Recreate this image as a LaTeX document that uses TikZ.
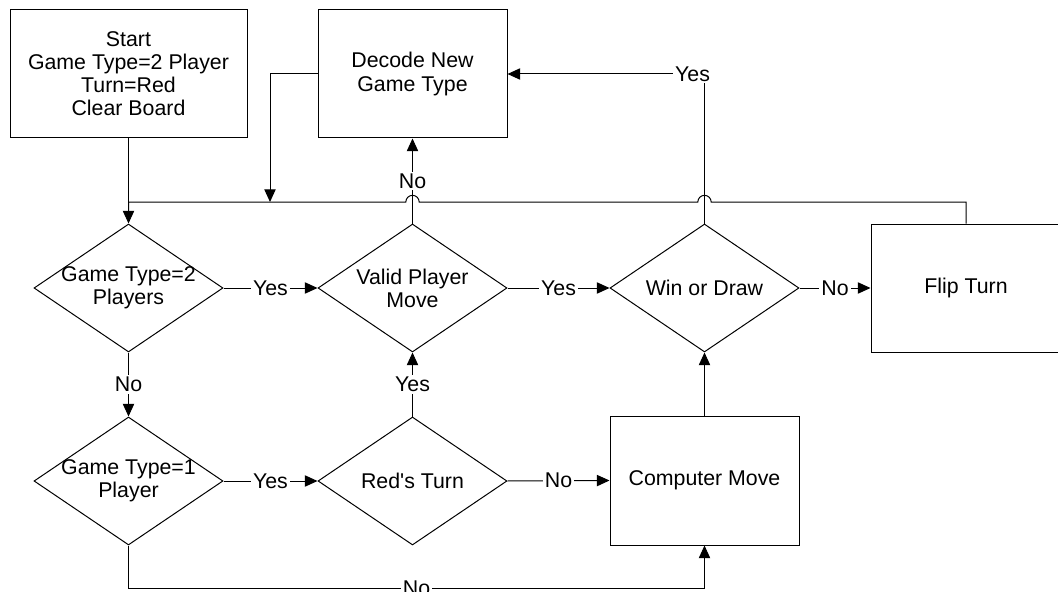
\documentclass[tikz,border=0pt]{standalone}
\usepackage{fontspec}
\setmainfont{Liberation Sans}
\usetikzlibrary{shapes.geometric,arrows.meta}

\tikzset{
  process/.style={draw, rectangle, minimum height=96pt, align=center, inner sep=0pt},
  decision/.style={draw, diamond, minimum width=141.75pt, minimum height=96pt,
    inner sep=0pt, label={[align=center]center:#1}},
  arr/.style={-{Triangle[length=9.5pt,width=8.5pt]}},
  lbl/.style={fill=white, inner sep=1.5pt},
}

\begin{document}
\begin{tikzpicture}[x=0.75pt, y=-0.75pt, line width=0.75pt, font=\fontsize{16}{17.3}\selectfont]
    \useasboundingbox (0,0) rectangle (1058,592);
    % top row
    \node[process, minimum width=177.75pt] (start) at (128.5,74) {Start\\Game Type=2 Player\\Turn=Red\\Clear Board};
    \node[process, minimum width=141.75pt] (decode) at (412.5,74) {Decode New\\Game Type};
    % middle row
    \node[decision={Game Type=2\\Players}] (twoplayer) at (128.5,288) {};
    \node[decision={Valid Player\\Move}] (valid) at (412.5,288) {};
    \node[decision={Win or Draw}] (win) at (704.5,288) {};
    \node[process, minimum width=142.5pt] (flip) at (966,288) {Flip Turn};
    % bottom row
    \node[decision={Game Type=1\\Player}] (oneplayer) at (128.5,481) {};
    \node[decision={Red\textquotesingle s Turn}] (redturn) at (412.5,481) {};
    \node[process, minimum width=141.75pt, minimum height=96.75pt] (computer) at (704.5,480.5) {Computer Move};

    % loop back line with hops
    \coordinate (bus) at (128.5,202);
    \coordinate (join) at (270,202);
    \coordinate (hopwin) at (win.north |- bus);
    \coordinate (hopvalid) at (valid.north |- bus);
    \draw (start) -- (bus);
    \draw[arr] (flip.north) |- ([xshift=5pt]hopwin) arc[start angle=0, end angle=180, radius=5pt]
      -- ([xshift=5pt]hopvalid) arc[start angle=0, end angle=180, radius=5pt]
      -- (bus) -- (twoplayer.north);
    \draw[arr] (decode.west) -| (join);

    \draw[arr] (twoplayer.east) -- node[lbl]{Yes} (valid.west);
    \draw[arr] (valid.east) -- node[lbl]{Yes} (win.west);
    \draw[arr] (win.east) -- node[lbl]{No} (flip.west);
    \draw[arr] (valid.north) -- node[lbl]{No} (decode.south);
    \draw[arr] (win.north) |- node[lbl, xshift=-9pt]{Yes} (decode.east);
    \draw[arr] (twoplayer.south) -- node[lbl]{No} (oneplayer.north);
    \draw[arr] (redturn.north) -- node[lbl]{Yes} (valid.south);
    \draw[arr] (oneplayer.east) -- node[lbl]{Yes} (redturn.west);
    \draw[arr] (redturn.east) -- node[lbl]{No} (computer.west);
    \draw[arr] (computer.north) -- (win.south);
    \draw[arr] (oneplayer.south) -- ++(0,43) -| node[lbl, pos=0.25]{No} (computer.south);
\end{tikzpicture}
\end{document}
